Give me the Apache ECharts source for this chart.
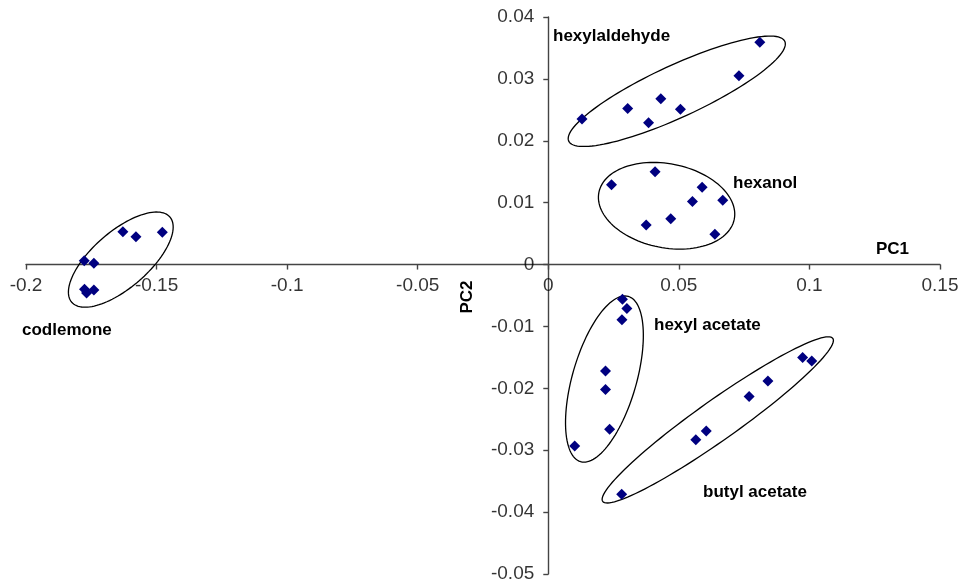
<!DOCTYPE html>
<html>
<head>
<meta charset="utf-8">
<script src="https://cdn.jsdelivr.net/npm/echarts@6/dist/echarts.min.js"></script>
<style>html,body{margin:0;padding:0;background:#fff}#c{width:962px;height:583px}</style>
</head>
<body>
<div id="c"></div>
<script>
// Data (PC1, PC2) per group
const codlemone = [[-0.1629,0.0053],[-0.1579,0.0045],[-0.1478,0.0052],[-0.1777,0.0006],[-0.1740,0.0002],[-0.1776,-0.0040],[-0.1768,-0.0046],[-0.1740,-0.0041]];
const hexylaldehyde = [[0.0129,0.0235],[0.0304,0.0252],[0.0384,0.0229],[0.0431,0.0268],[0.0506,0.0251],[0.0730,0.0305],[0.0810,0.0359]];
const hexanol = [[0.0242,0.0129],[0.0409,0.0150],[0.0589,0.0125],[0.0552,0.0102],[0.0668,0.0104],[0.0469,0.0074],[0.0375,0.0064],[0.0638,0.0049]];
const hexylAcetate = [[0.0284,-0.0056],[0.0301,-0.0071],[0.0282,-0.0089],[0.0219,-0.0172],[0.0219,-0.0202],[0.0235,-0.0266],[0.0101,-0.0293]];
const butylAcetate = [[0.0281,-0.0371],[0.0565,-0.0283],[0.0605,-0.0269],[0.0769,-0.0213],[0.0841,-0.0188],[0.0974,-0.0150],[0.1009,-0.0156]];
// Group ellipse centres (data space)
const ellipseCenters = [[-0.1637,0.0008],[0.0492,0.0280],[0.0453,0.0095],[0.0215,-0.0185],[0.0649,-0.0251]];
const groupNames = ['codlemone','hexylaldehyde','hexanol','hexyl acetate','butyl acetate'];
// Axis ticks and labels
const xTickValues = [-0.2,-0.15,-0.1,-0.05,0,0.05,0.1,0.15];
const xTickLabels = ['-0.2','-0.15','-0.1','-0.05','0','0.05','0.1','0.15'];
const yTickValues = [-0.05,-0.04,-0.03,-0.02,-0.01,0,0.01,0.02,0.03,0.04];
const yTickLabels = ['-0.05','-0.04','-0.03','-0.02','-0.01','0','0.01','0.02','0.03','0.04'];

// ellipse shapes in pixels: [rx, ry, angle deg]
const ellipseShape = [[65,28,41],[119,26,24.8],[69,42,-11.2],[86,32,73.9],[141,20,35.3]];

const chart = echarts.init(document.getElementById('c'), null, {renderer:'canvas'});
const FONT = 'Liberation Sans, Arial, sans-serif';
const allPts = [].concat(codlemone, hexylaldehyde, hexanol, hexylAcetate, butylAcetate);

const axisCommon = {
  axisLine:{onZero:true, lineStyle:{color:'#444', width:1.4}},
  axisTick:{show:true, length:5, lineStyle:{color:'#444', width:1.4}},
  splitLine:{show:false},
  axisLabel:{show:false}
};
const tickLabelStyle = {color:'#000', fontSize:19, fontFamily:FONT};
const bold = 'bold 17px ' + FONT;

chart.setOption({
  animation:false,
  grid:{left:26, right:22, top:17, bottom:9, containLabel:false, outerBoundsMode:'none'},
  xAxis:Object.assign({type:'value', min:xTickValues[0], max:xTickValues[xTickValues.length-1], interval:0.05}, axisCommon),
  yAxis:Object.assign({type:'value', min:yTickValues[0], max:yTickValues[yTickValues.length-1], interval:0.01}, axisCommon),
  graphic:[
    {type:'text', x:553, y:36, style:{text:groupNames[1], font:bold, fill:'#000', textAlign:'left', textVerticalAlign:'middle'}},
    {type:'text', x:733, y:183, style:{text:groupNames[2], font:bold, fill:'#000', textAlign:'left', textVerticalAlign:'middle'}},
    {type:'text', x:22, y:330, style:{text:groupNames[0], font:bold, fill:'#000', textAlign:'left', textVerticalAlign:'middle'}},
    {type:'text', x:654, y:325, style:{text:groupNames[3], font:bold, fill:'#000', textAlign:'left', textVerticalAlign:'middle'}},
    {type:'text', x:703, y:492, style:{text:groupNames[4], font:bold, fill:'#000', textAlign:'left', textVerticalAlign:'middle'}},
    {type:'text', x:876, y:249, style:{text:'PC1', font:bold, fill:'#000', textAlign:'left', textVerticalAlign:'middle'}},
    {type:'text', x:467, y:297, rotation:Math.PI/2, style:{text:'PC2', font:bold, fill:'#000', textAlign:'center', textVerticalAlign:'middle'}}
  ],
  series:[
    {
      type:'custom',
      coordinateSystem:'cartesian2d',
      silent:true,
      clip:false,
      z:1,
      data:ellipseCenters.map((c,i)=>[c[0],c[1],i]),
      encode:{x:0,y:1},
      renderItem:function(params, api){
        const c = api.coord([api.value(0), api.value(1)]);
        const s = ellipseShape[api.value(2)];
        const a = s[2]*Math.PI/180;
        const pts = [];
        for(let k=0;k<120;k++){
          const t = k/120*Math.PI*2;
          const ex = s[0]*Math.cos(t), ey = s[1]*Math.sin(t);
          pts.push([c[0] + ex*Math.cos(a) - ey*Math.sin(a), c[1] - (ex*Math.sin(a) + ey*Math.cos(a))]);
        }
        return {type:'polygon', shape:{points:pts}, style:{fill:'none', stroke:'#000', lineWidth:1.3}};
      }
    },
    {
      type:'scatter',
      symbol:'diamond',
      symbolSize:11,
      z:3,
      itemStyle:{color:'#000080', opacity:1},
      emphasis:{disabled:true},
      data:allPts
    },
    {
      type:'scatter', silent:true, symbolSize:0, z:4, clip:false,
      data:xTickValues.map((v,i)=>({value:[v,0], name:xTickLabels[i]})),
      label:Object.assign({show:true, position:'bottom', distance:12, formatter:'{b}'}, tickLabelStyle)
    },
    {
      type:'scatter', silent:true, symbolSize:0, z:4, clip:false,
      data:yTickValues.map((v,i)=>({value:[0,v], name:yTickLabels[i]})),
      label:Object.assign({show:true, position:'left', distance:14, formatter:'{b}'}, tickLabelStyle)
    }
  ]
});
</script>
</body>
</html>
